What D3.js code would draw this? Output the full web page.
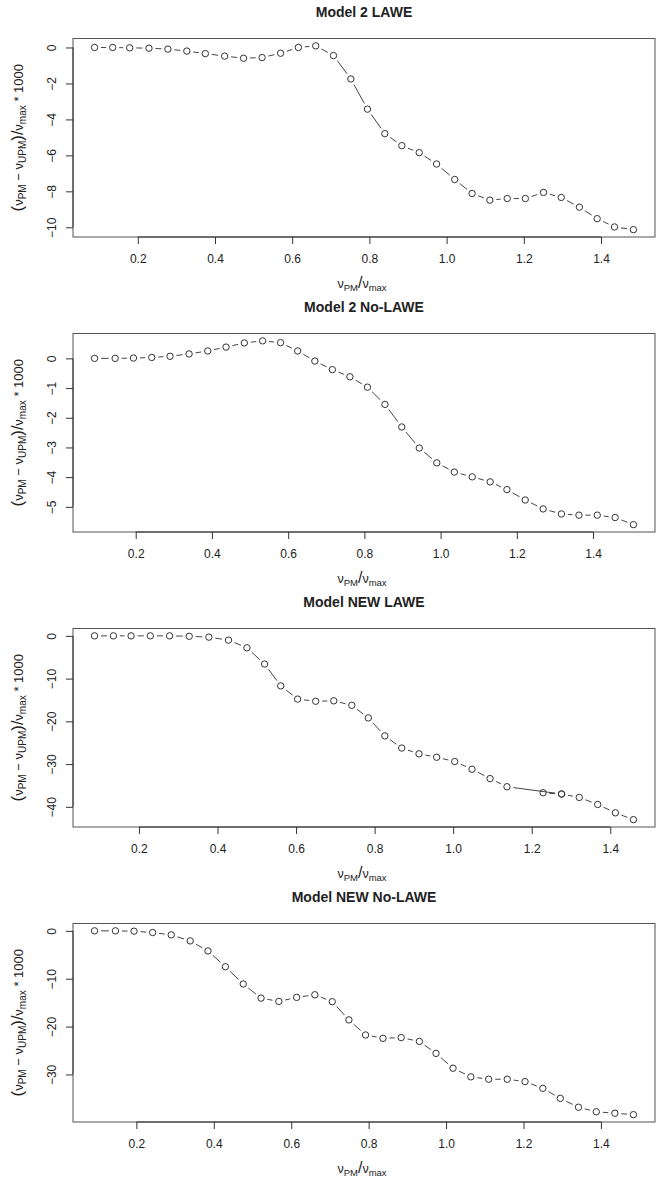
<!DOCTYPE html>
<html>
<head>
<meta charset="utf-8">
<script src="https://cdn.jsdelivr.net/npm/d3@7"></script>
<style>
  body { margin: 0; background: #fff; }
  text { font-family: "Liberation Sans", Arial, Helvetica, sans-serif; fill: #222; }
</style>
</head>
<body>
<svg id="chart" width="665" height="1180"></svg>
<script>
// Panel titles
const titles = ['Model 2 LAWE', 'Model 2 No-LAWE', 'Model NEW LAWE', 'Model NEW No-LAWE'];

// Model 2 LAWE
const x1 = [0.088, 0.135, 0.179, 0.229, 0.278, 0.327, 0.375, 0.425, 0.474, 0.522, 0.570,
	0.616, 0.661, 0.707, 0.752, 0.795, 0.840, 0.884, 0.929, 0.974, 1.021, 1.066,
	1.112, 1.157, 1.204, 1.251, 1.297, 1.344, 1.390, 1.435, 1.484];
const y1 = [0, 0, -0.02, -0.04, -0.09, -0.2, -0.34, -0.48, -0.6, -0.56, -0.32,
	0, 0.09, -0.45, -1.75, -3.43, -4.79, -5.46, -5.85, -6.48, -7.34, -8.12,
	-8.49, -8.4, -8.4, -8.06, -8.34, -8.88, -9.52, -9.98, -10.13];

// Model 2 No-LAWE
const x2 = [0.092, 0.146, 0.194, 0.242, 0.290, 0.340, 0.389, 0.437, 0.485, 0.533, 0.580,
	0.625, 0.670, 0.716, 0.762, 0.808, 0.854, 0.898, 0.944, 0.990, 1.036, 1.083,
	1.130, 1.174, 1.222, 1.269, 1.317, 1.363, 1.411, 1.458, 1.506];
const y2 = [0, 0, 0.01, 0.03, 0.07, 0.15, 0.25, 0.38, 0.52, 0.59, 0.53,
	0.25, -0.09, -0.38, -0.62, -0.97, -1.55, -2.31, -3.02, -3.52, -3.83, -3.99,
	-4.16, -4.42, -4.77, -5.07, -5.24, -5.28, -5.28, -5.36, -5.6];

// Model NEW LAWE (one point out of order near 1.28)
const x3 = [0.087, 0.135, 0.180, 0.229, 0.278, 0.328, 0.378, 0.428, 0.475, 0.520, 0.561,
	0.604, 0.650, 0.696, 0.742, 0.784, 0.826, 0.869, 0.913, 0.958, 1.004, 1.048,
	1.094, 1.137, 1.276, 1.229, 1.276, 1.321, 1.368, 1.413, 1.459];
const y3 = [0, 0, 0, 0, 0, -0.1, -0.3, -1.0, -2.8, -6.6, -11.7,
	-14.8, -15.3, -15.2, -16.25, -19.2, -23.4, -26.25, -27.6, -28.4, -29.4, -31.2,
	-33.4, -35.3, -37.0, -36.7, -37.0, -37.8, -39.45, -41.4, -43.0];

// Model NEW No-LAWE
const x4 = [0.092, 0.146, 0.194, 0.242, 0.290, 0.339, 0.385, 0.430, 0.476, 0.522, 0.568,
	0.614, 0.661, 0.706, 0.749, 0.792, 0.837, 0.884, 0.931, 0.974, 1.018, 1.064,
	1.110, 1.158, 1.204, 1.250, 1.295, 1.342, 1.388, 1.436, 1.484];
const y4 = [0, 0, -0.07, -0.35, -0.84, -2.1, -4.2, -7.5, -11.1, -14.05, -14.75,
	-13.9, -13.35, -14.8, -18.6, -21.75, -22.45, -22.3, -23.1, -25.6, -28.7, -30.5,
	-31.0, -31.0, -31.5, -32.9, -35.0, -36.85, -37.8, -38.1, -38.4];

// Tick labels
const xTicks = [0.2, 0.4, 0.6, 0.8, 1.0, 1.2, 1.4];
const yTicks1 = [0, -2, -4, -6, -8, -10];
const yTicks2 = [0, -1, -2, -3, -4, -5];
const yTicks3 = [0, -10, -20, -30, -40];
const yTicks4 = [0, -10, -20, -30];

const svg = d3.select('#chart');
const W = 665;
const panelH = 295;
const margin = {top: 38.5, right: 10, bottom: 58, left: 73};
const gap = 6.5; // gap around points for type "b" lines

// R style axis range: data range plus 4% each side
const extend = ([lo, hi]) => {
	let d = (hi - lo) * 0.04;
	return [lo - d, hi + d];
};

// label made of plain parts and subscripts
const addSubLabel = (text, parts, subSize) => {
	let prevSub = false;
	parts.forEach(([s, sub, size]) => {
		let t = text.append('tspan').text(s);
		if (sub) {
			t.attr('font-size', subSize);
			if (!prevSub) t.attr('dy', 3);
		} else {
			if (size) t.attr('font-size', size);
			if (prevSub) t.attr('dy', -3);
		}
		prevSub = !!sub;
	});
};

const drawPanel = (i, xs, ys, yTicks) => {
	let g = svg.append('g').attr('transform', `translate(0,${i * panelH})`);
	let top = margin.top, bottom = panelH - margin.bottom;
	let left = margin.left, right = W - margin.right;

	let x = d3.scaleLinear().domain(extend(d3.extent(xs))).range([left, right]);
	let y = d3.scaleLinear().domain(extend(d3.extent(ys))).range([bottom, top]);

	// plot box
	g.append('rect')
		.attr('x', left).attr('y', top)
		.attr('width', right - left).attr('height', bottom - top)
		.attr('fill', 'none').attr('stroke', '#555').attr('stroke-width', 1);

	// x axis
	let gx = g.append('g').attr('transform', `translate(0,${bottom})`)
		.call(d3.axisBottom(x).tickValues(xTicks).tickFormat(d3.format('.1f')).tickSize(7).tickPadding(10.5));
	gx.select('.domain').remove();
	gx.append('line')
		.attr('x1', x(xTicks[0])).attr('x2', x(xTicks[xTicks.length - 1]))
		.attr('stroke', '#333');
	gx.selectAll('.tick line').attr('stroke', '#333');
	gx.selectAll('.tick text').attr('font-size', 12).attr('fill', '#222');

	// y axis, labels parallel to axis
	let gy = g.append('g').attr('transform', `translate(${left},0)`)
		.call(d3.axisLeft(y).tickValues(yTicks).tickFormat(d3.format('d')).tickSize(7));
	gy.select('.domain').remove();
	gy.append('line')
		.attr('y1', y(yTicks[0])).attr('y2', y(yTicks[yTicks.length - 1]))
		.attr('stroke', '#333');
	gy.selectAll('.tick line').attr('stroke', '#333');
	gy.selectAll('.tick text')
		.attr('font-size', 12).attr('fill', '#222')
		.attr('transform', 'rotate(-90)')
		.attr('x', 0).attr('y', -17).attr('dy', null)
		.attr('text-anchor', 'middle');

	// connecting segments with gaps round points
	let pts = xs.map((d, k) => [x(d), y(ys[k])]);
	let segs = [];
	for (let k = 0; k < pts.length - 1; k++) {
		let [ax, ay] = pts[k], [bx, by] = pts[k + 1];
		let dist = Math.hypot(bx - ax, by - ay);
		if (dist <= 2 * gap) continue;
		let ux = (bx - ax) / dist, uy = (by - ay) / dist;
		segs.push([ax + ux * gap, ay + uy * gap, bx - ux * gap, by - uy * gap]);
	}
	g.append('g').selectAll('line')
		.data(segs)
		.enter()
		.append('line')
		.attr('x1', (d) => d[0]).attr('y1', (d) => d[1])
		.attr('x2', (d) => d[2]).attr('y2', (d) => d[3])
		.attr('stroke', '#444').attr('stroke-width', 1);

	// points
	g.append('g').selectAll('circle')
		.data(pts)
		.enter()
		.append('circle')
		.attr('cx', (d) => d[0]).attr('cy', (d) => d[1])
		.attr('r', 3.2)
		.attr('fill', 'none').attr('stroke', '#333').attr('stroke-width', 1);

	// title
	g.append('text')
		.attr('x', (left + right) / 2).attr('y', 17)
		.attr('text-anchor', 'middle')
		.attr('font-size', 14).attr('font-weight', 'bold')
		.text(titles[i]);

	// x label
	let xl = g.append('text')
		.attr('x', (left + right) / 2 - 2).attr('y', 288)
		.attr('text-anchor', 'middle')
		.attr('font-size', 12.5);
	addSubLabel(xl, [['ν'], ['PM', true], ['/', false, 16], ['ν'], ['max', true]], 9.5);

	// y label
	let yl = g.append('text')
		.attr('transform', `translate(23,${(top + bottom) / 2}) rotate(-90)`)
		.attr('text-anchor', 'middle')
		.attr('font-size', 13);
	addSubLabel(yl, [['(', false, 17], ['ν'], ['PM', true], [' − ν'], ['UPM', true],
		[')', false, 17], ['/', false, 16], ['ν'], ['max', true], [' * 1000']], 10);
};

drawPanel(0, x1, y1, yTicks1);
drawPanel(1, x2, y2, yTicks2);
drawPanel(2, x3, y3, yTicks3);
drawPanel(3, x4, y4, yTicks4);
</script>
</body>
</html>
